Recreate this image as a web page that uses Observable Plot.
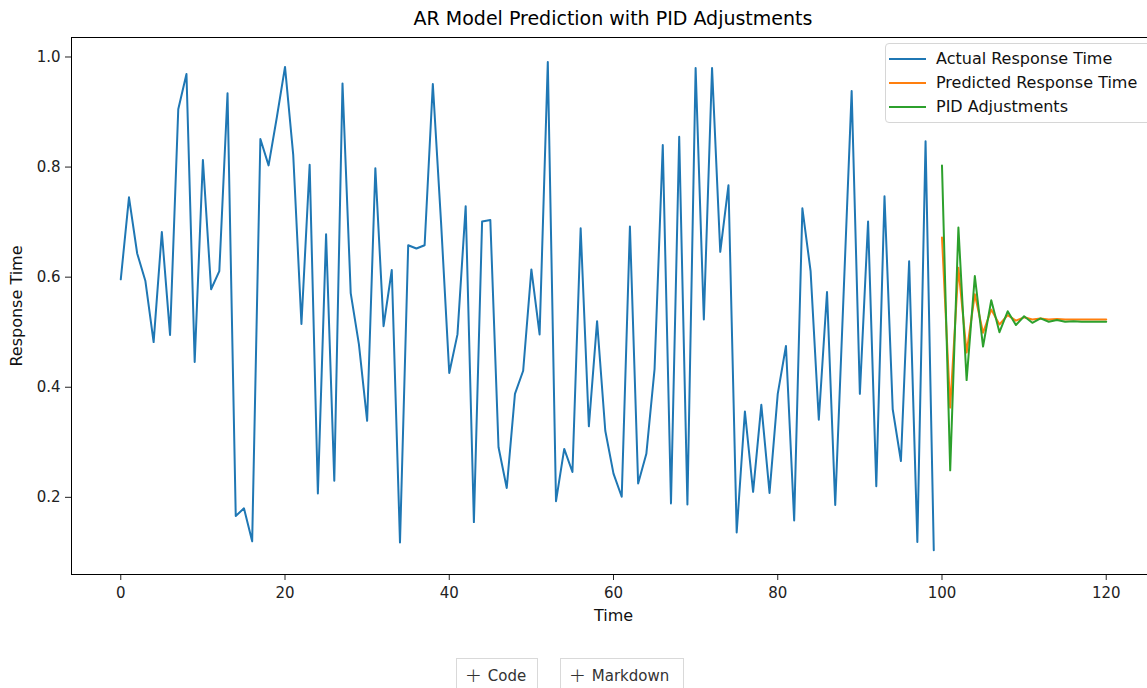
<!DOCTYPE html>
<html>
<head>
<meta charset="utf-8">
<script src="https://cdn.jsdelivr.net/npm/d3@7"></script>
<script src="https://cdn.jsdelivr.net/npm/@observablehq/plot@0.6"></script>
<style>
  html, body { margin: 0; padding: 0; background: #fff; overflow: hidden; width: 1147px; height: 688px; }
  body { position: relative; font-family: "DejaVu Sans", sans-serif; }
  #title { position: absolute; top: 7px; left: 0; width: 1226px; text-align: center; font-size: 19px; color: #000; }
  #chart { position: absolute; top: 0; left: 0; width: 1160px; }
  #chart svg { max-width: none !important; }
  #legend { position: absolute; left: 885px; top: 43px; width: 280px; height: 80px; border: 1px solid #d6d6d6; border-radius: 4px; background: rgba(255,255,255,0.85); box-sizing: border-box; }
  .lrow { position: absolute; left: 0; height: 22px; font-size: 16px; color: #111; white-space: nowrap; }
  .lrow span.sw { position: absolute; left: 3px; top: 10px; width: 37px; height: 2px; }
  .lrow span.tx { position: absolute; left: 50px; top: 0; line-height: 22px; }
  .btn { position: absolute; top: 658px; height: 34px; border: 1px solid #d9d9d9; box-sizing: border-box; font-size: 15px; color: #333; padding: 0 8px; line-height: 32px; background: #fff; }
  .btn .pl { font-size: 20px; font-weight: 300; margin-right: 6px; vertical-align: -1px; }
</style>
</head>
<body>
<div id="title">AR Model Prediction with PID Adjustments</div>
<div id="chart"></div>
<div id="legend"></div>
<div class="btn" style="left:456px;width:82px;"><span class="pl">+</span>Code</div>
<div class="btn" style="left:560px;width:124px;"><span class="pl">+</span>Markdown</div>
<script>
// ---- data ----
const actualTime = d3.range(0, 100);
const actualValues = [0.596,0.745,0.643,0.593,0.482,0.682,0.495,0.905,0.969,0.446,
0.813,0.578,0.611,0.934,0.166,0.180,0.120,0.851,0.803,0.890,
0.982,0.822,0.515,0.804,0.207,0.678,0.230,0.952,0.571,0.478,
0.339,0.798,0.511,0.613,0.118,0.658,0.652,0.658,0.951,0.700,
0.426,0.496,0.729,0.155,0.701,0.704,0.291,0.217,0.388,0.430,
0.614,0.496,0.991,0.193,0.288,0.246,0.689,0.329,0.520,0.321,
0.243,0.201,0.692,0.225,0.279,0.433,0.840,0.189,0.855,0.187,
0.980,0.523,0.980,0.646,0.767,0.136,0.356,0.210,0.368,0.208,
0.388,0.475,0.158,0.725,0.611,0.341,0.573,0.186,0.562,0.938,
0.388,0.701,0.220,0.747,0.360,0.266,0.629,0.119,0.847,0.104];

const futureTime = d3.range(100, 121);
const predictedValues = [0.672,0.363,0.617,0.463,0.569,0.499,0.541,0.514,0.531,0.521,
0.527,0.523,0.525,0.523,0.524,0.523,0.523,0.523,0.523,0.523,0.523];
const pidValues = [0.803,0.249,0.690,0.413,0.602,0.474,0.558,0.500,0.538,0.513,
0.529,0.517,0.525,0.519,0.522,0.519,0.520,0.519,0.519,0.519,0.519];

const seriesNames = ["Actual Response Time", "Predicted Response Time", "PID Adjustments"];
const seriesColors = ["#1f77b4", "#ff7f0e", "#2ca02c"];

const xTicks = [0, 20, 40, 60, 80, 100, 120];
const yTicks = [0.2, 0.4, 0.6, 0.8, 1.0];

// ---- tables ----
const actual = actualTime.map((t, i) => ({t, v: actualValues[i]}));
const predicted = futureTime.map((t, i) => ({t, v: predictedValues[i]}));
const pid = futureTime.map((t, i) => ({t, v: pidValues[i]}));

const chart = Plot.plot({
  width: 1160,
  height: 640,
  marginTop: 37,
  marginBottom: 66,
  marginLeft: 71,
  marginRight: 5,
  style: { fontFamily: "DejaVu Sans, sans-serif", fontSize: "15px", color: "#222", background: "transparent", maxWidth: "none" },
  x: { domain: [-6, 126], ticks: xTicks, tickFormat: d => String(d), label: "Time", labelAnchor: "center", labelArrow: "none", labelOffset: 46, tickSize: 6, tickPadding: 7 },
  y: { domain: [0.0598, 1.0354], ticks: yTicks, tickFormat: d3.format(".1f"), label: "Response Time", labelAnchor: "center", labelArrow: "none", labelOffset: 61, tickSize: 6, tickPadding: 5 },
  marks: [
    Plot.line(actual, {x: "t", y: "v", stroke: seriesColors[0], strokeWidth: 2}),
    Plot.line(predicted, {x: "t", y: "v", stroke: seriesColors[1], strokeWidth: 2}),
    Plot.line(pid, {x: "t", y: "v", stroke: seriesColors[2], strokeWidth: 2}),
    Plot.frame({stroke: "#000", strokeWidth: 1})
  ]
});
chart.style.maxWidth = "none";
document.getElementById("chart").appendChild(chart);
d3.select(chart).selectAll("[aria-label$='axis label'] text").style("font-size", "16px").attr("fill", "#111");

// legend
const leg = document.getElementById("legend");
seriesNames.forEach((name, i) => {
  const row = document.createElement("div");
  row.className = "lrow";
  row.style.top = (4 + i * 24) + "px";
  row.innerHTML = `<span class="sw" style="background:${seriesColors[i]}"></span><span class="tx">${name}</span>`;
  leg.appendChild(row);
});
</script>
</body>
</html>
